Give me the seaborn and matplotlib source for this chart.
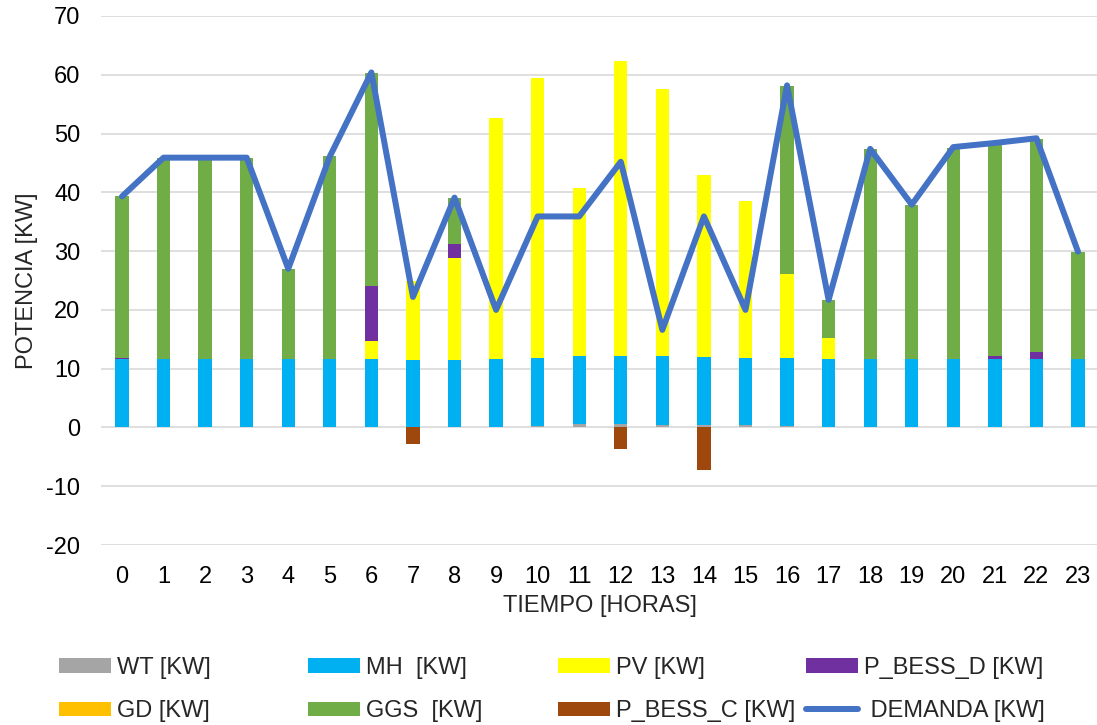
import numpy as np
import pandas as pd
import matplotlib
matplotlib.use("Agg")
import matplotlib.pyplot as plt
from matplotlib.patches import Patch
from matplotlib.lines import Line2D
import seaborn as sns

# Hourly dispatch of the microgrid (kW)
hours = list(range(24))
wt = [0, 0, 0, 0, 0, 0, 0, 0, 0, 0, 0.2, 0.65, 0.6, 0.5, 0.5, 0.35, 0.2, 0, 0, 0, 0, 0, 0, 0]
mh = [11.6, 11.6, 11.6, 11.6, 11.6, 11.6, 11.6, 11.5, 11.5, 11.6, 11.6, 11.55,
      11.6, 11.7, 11.5, 11.45, 11.55, 11.6, 11.6, 11.6, 11.6, 11.6, 11.6, 11.6]
pv = [0, 0, 0, 0, 0, 0, 3.1, 13.4, 17.3, 41.0, 47.7, 28.6, 50.1, 45.4, 31.0, 26.7,
      14.35, 3.7, 0, 0, 0, 0, 0, 0]
bess_d = [0.15, 0, 0, 0, 0, 0, 9.4, 0, 2.4, 0, 0, 0, 0, 0, 0, 0, 0, 0, 0, 0, 0, 0.55, 1.3, 0]
gd = [0] * 24
ggs = [27.55, 34.3, 34.3, 34.3, 15.4, 34.5, 36.2, 0, 7.9, 0, 0, 0, 0, 0, 0, 0,
       32.0, 6.3, 35.7, 26.3, 36.0, 36.25, 36.2, 18.3]
bess_c = [0, 0, 0, 0, 0, 0, 0, -2.8, 0, 0, 0, 0, -3.7, 0, -7.2, 0, 0, 0, 0, 0, 0, 0, 0, 0]
demanda = [39.3, 45.9, 45.9, 45.9, 27.0, 46.1, 60.4, 22.2, 39.1, 20.0, 35.9, 35.9,
           45.2, 16.6, 35.9, 20.0, 58.2, 21.7, 47.4, 37.9, 47.7, 48.4, 49.2, 29.9]

labels = ["WT [KW]", "MH  [KW]", "PV [KW]", "P_BESS_D [KW]", "GD [KW]", "GGS  [KW]",
          "P_BESS_C [KW]", " DEMANDA [KW]"]
colors = ["#A5A5A5", "#00B0F0", "#FFFF00", "#7030A0", "#FFC000", "#70AD47",
          "#9E480E", "#4472C4"]

sns.set_style("white")
plt.rcParams["font.family"] = ["Liberation Sans", "DejaVu Sans"]
plt.rcParams["font.size"] = 17
plt.rcParams["axes.unicode_minus"] = False

fs = 17
fig = plt.figure(figsize=(10.97, 7.25), dpi=100)
ax = fig.add_axes([101.2 / 1097, 1 - 545 / 725, 997.6 / 1097, 529 / 725])

# positive contributions are stacked in series order
positive = [wt, mh, pv, bess_d, gd, ggs]
bottom = np.zeros(24)
for vals, col in zip(positive, colors[:6]):
    sns.barplot(x=hours, y=vals, bottom=bottom, color=col, width=0.32,
                errorbar=None, saturation=1, linewidth=0, ax=ax, zorder=2)
    bottom = bottom + np.array(vals)

# battery charging drawn below zero
sns.barplot(x=hours, y=bess_c, color=colors[6], width=0.32, errorbar=None,
            saturation=1, linewidth=0, ax=ax, zorder=2)

sns.lineplot(x=hours, y=demanda, color=colors[7], linewidth=4.3, ax=ax, zorder=3,
             solid_joinstyle="round", solid_capstyle="round")

ax.set_xlim(-0.5, 23.5)
ax.set_ylim(-20, 70)
ax.set_yticks(range(-20, 71, 10))
ax.set_xticks(hours)
ax.set_xticklabels([str(h) for h in hours])
ax.grid(axis="y", color="#D9D9D9", linewidth=1.2, zorder=0)
ax.set_axisbelow(True)
for s in ax.spines.values():
    s.set_visible(False)
ax.tick_params(axis="both", length=0, labelsize=fs, colors="#000000")
ax.tick_params(axis="y", pad=15)
ax.tick_params(axis="x", pad=15)
ax.set_xlabel("TIEMPO [HORAS]", fontsize=fs, labelpad=5)
ax.set_ylabel("POTENCIA [KW]", fontsize=fs, labelpad=6)

# legend laid out as four columns of two rows
handles = [Patch(facecolor=c, edgecolor="none") for c in colors[:7]]
handles.append(Line2D([0], [0], color=colors[7], linewidth=4.3, solid_capstyle="round"))
columns = [(0, 4), (1, 5), (2, 6), (3, 7)]
col_x = [59, 308, 558, 806]
for (i, j), x0 in zip(columns, col_x):
    fig.legend([handles[i], handles[j]], [labels[i], labels[j]],
               loc="center left", bbox_to_anchor=(x0 / 1097, 1 - 689.5 / 725),
               frameon=False, fontsize=fs, handlelength=2.2, handleheight=0.55,
               handletextpad=0.25, labelspacing=0.9, borderpad=0, borderaxespad=0)

fig.savefig("out.png", dpi=100)
